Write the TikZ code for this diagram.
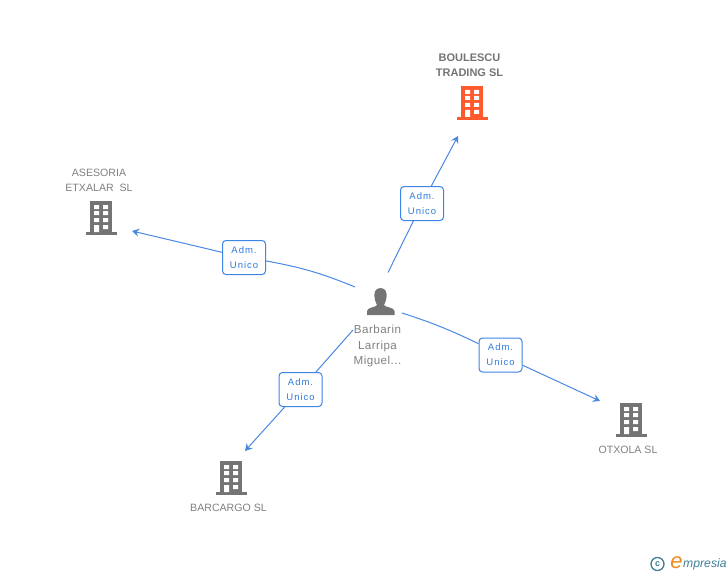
\documentclass[tikz,border=0pt]{standalone}
\usepackage{fontspec}
\setmainfont{Liberation Sans}
\newfontfamily\spaced[LetterSpace=10]{Liberation Sans}
\newfontfamily\spacedb[LetterSpace=4]{Liberation Sans}
\usetikzlibrary{arrows.meta}
\definecolor{lnk}{HTML}{4A88E4}
\definecolor{boxc}{HTML}{3D85E6}
\definecolor{txtb}{HTML}{2E7BDD}
\definecolor{gr}{HTML}{747474}
\definecolor{lab}{HTML}{808080}
\definecolor{org}{HTML}{FF5A2E}
\definecolor{teal1}{HTML}{3F7F96}
\definecolor{logoo}{HTML}{F08A1E}
\tikzset{
  x=1pt,y=-1pt,
  building/.pic={
    \fill[#1] (-11,-17) rectangle (11,14);
    \fill[#1] (-15,14) rectangle (16,17);
    \fill[white] (-7,-13) rectangle (-2,-9) (2,-13) rectangle (7,-9)
      (-7,-7) rectangle (-2,-3) (2,-7) rectangle (7,-3)
      (-7,0) rectangle (-2,4) (2,0) rectangle (7,4)
      (2,7) rectangle (7,11) (-7,7) rectangle (-2,14);
  },
  lbl/.style={draw=boxc,line width=1pt,fill=white,rounded corners=3.5pt,minimum width=43pt,minimum height=34pt,inner sep=0pt,text=txtb,font=\spaced\fontsize{9.5}{15}\selectfont,align=center},
  nametext/.style={text=lab,font=\fontsize{10.6}{15}\selectfont,align=center,inner sep=0pt},
  conn/.style={draw=lnk,line width=1pt},
  arr/.style={conn,-{Stealth[length=7pt,width=8pt]}},
}
\begin{document}
\begin{tikzpicture}
\useasboundingbox (0,0) rectangle (728,575);
% icons
\pic at (472,103) {building=org};
\pic at (101,218) {building=gr};
\pic at (631,420) {building=gr};
\pic at (231,478) {building=gr};
\fill[gr] (380.5,288) .. controls (375,288) and (374,293) .. (374.5,297)
  .. controls (375,301) and (376,303) .. (377,305)
  .. controls (376,307.5) and (367.5,307) .. (367,311) -- (367,315) -- (394.5,315) -- (394.5,311)
  .. controls (394,307) and (385,307.5) .. (384,305)
  .. controls (385,303) and (386,301) .. (386.5,297)
  .. controls (387,293) and (386,288) .. (380.5,288) -- cycle;
% names
\node[nametext,font=\bfseries\fontsize{11}{15}\selectfont,text=gr] (n1) at (469.5,65.5) {BOULESCU\\TRADING SL};
\node[nametext] (n2) at (99,180.5) {ASESORIA\\ETXALAR\ \ SL};
\node[nametext] (n3) at (628,450) {OTXOLA SL};
\node[nametext] (n4) at (228.5,508) {BARCARGO SL};
\node[nametext,font=\spacedb\fontsize{11.6}{15.5}\selectfont] (n0) at (377.5,346) {Barbarin\\Larripa\\Miguel...};
% boxes
\node[lbl] (b1) at (422,203.5) {Adm.\\Unico};
\node[lbl] (b2) at (244,257.5) {Adm.\\Unico};
\node[lbl] (b3) at (500.5,355) {Adm.\\Unico};
\node[lbl] (b4) at (300.5,389.5) {Adm.\\Unico};
% connector ends
\coordinate (s1) at (388,272.5);
\coordinate (s2) at (355,287);
\coordinate (s3) at (402,313);
\coordinate (s4) at (353,330);
\coordinate (e1) at (458,136);
\coordinate (e2) at (132,231);
\coordinate (e3) at (600,401);
\coordinate (e4) at (245,451);
% connectors
\draw[conn] (s1) -- (b1);
\draw[arr] (b1) -- (e1);
\draw[conn] (s2) to[bend right=6] (b2);
\draw[arr] (b2) -- (e2);
\draw[conn] (s3) to[bend left=4] (b3);
\draw[arr] (b3) -- (e3);
\draw[conn] (s4) -- (b4);
\draw[arr] (b4) -- (e4);
% logo
\node[circle,draw=teal1,line width=1.3pt,minimum size=13pt,inner sep=0pt,text=teal1,font=\fontsize{9}{9}\selectfont\bfseries] (c) at (657.5,564) {c};
\node[inner sep=0pt,text=logoo,font=\itshape\fontsize{22}{22}\selectfont] (l1) at (676.5,562.5) {e};
\node[inner sep=0pt,anchor=west,text=teal1,font=\itshape\fontsize{12.2}{12.2}\selectfont] (l2) at (683,564.5) {mpresia};
\end{tikzpicture}
\end{document}
